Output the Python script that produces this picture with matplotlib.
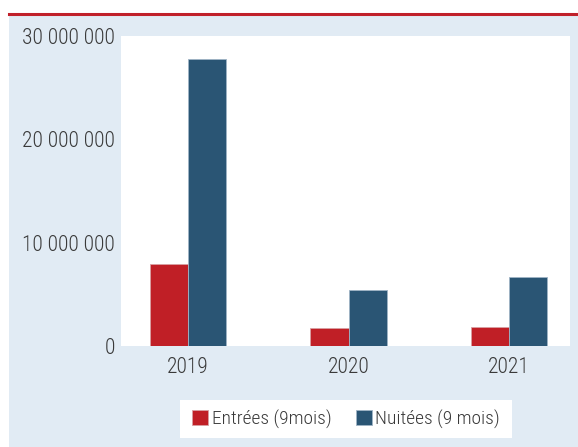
import matplotlib
matplotlib.use("Agg")
import matplotlib.pyplot as plt
from matplotlib.patches import Rectangle
from matplotlib.lines import Line2D
import numpy as np

years = ["2019", "2020", "2021"]
entrees = [7950000, 1750000, 1850000]
nuitees = [27800000, 5400000, 6700000]
labels = ["Entrées (9mois)", "Nuitées (9 mois)"]
yticks = [0, 10000000, 20000000, 30000000]

red = "#C01F26"
blue = "#2A5574"
bg = "#E1EBF4"
txt = "#3A3A3A"

plt.rcParams["font.family"] = ["Roboto Condensed", "DejaVu Sans"]
plt.rcParams["font.weight"] = 300

W, H = 578, 447
fig = plt.figure(figsize=(W / 100, H / 100), dpi=100)
fig.patch.set_facecolor("white")

# panel background + red top rule
fig.add_artist(Rectangle((9 / W, 0), 1 - 9 / W, 1 - 15 / H, transform=fig.transFigure,
                         facecolor=bg, edgecolor="none", zorder=0))
fig.add_artist(Line2D([9 / W, 1], [1 - 13.5 / H, 1 - 13.5 / H], transform=fig.transFigure,
                      color="#C0202A", lw=2.2, zorder=1))
# legend box
fig.add_artist(Rectangle((180 / W, 1 - 438 / H), 332 / W, 38 / H, transform=fig.transFigure,
                         facecolor="white", edgecolor="none", zorder=1))

ax = fig.add_axes([121 / W, 1 - 346 / H, 449 / W, 310 / H])
ax.set_facecolor("white")

x = np.arange(len(years))
w = 0.237
ax.bar(x - w / 2, entrees, w, color=red, edgecolor="#d9a0a3", linewidth=0.6, label=labels[0], zorder=2)
ax.bar(x + w / 2, nuitees, w, color=blue, edgecolor="#9fb4c6", linewidth=0.6, label=labels[1], zorder=2)

ax.set_xlim(-0.4174, 2.380)
ax.set_ylim(0, 30000000)
ax.set_xticks(x)
ax.set_xticklabels(years)
ax.set_yticks(yticks)
ax.set_yticklabels([f"{v:,}".replace(",", " ") for v in yticks])
ax.tick_params(length=0, labelsize=15.5, labelcolor=txt)
ax.tick_params(axis="y", pad=4.5)
ax.tick_params(axis="x", pad=8)
for s in ax.spines.values():
    s.set_visible(False)

leg = fig.legend(loc="center", bbox_to_anchor=(346 / W, 1 - 419 / H), ncol=2,
                 frameon=False, fontsize=14, handlelength=0.82,
                 handleheight=0.82, handletextpad=0.2, columnspacing=1.25,
                 borderpad=0.3)
for t in leg.get_texts():
    t.set_color(txt)

fig.savefig("out.png", dpi=100)
